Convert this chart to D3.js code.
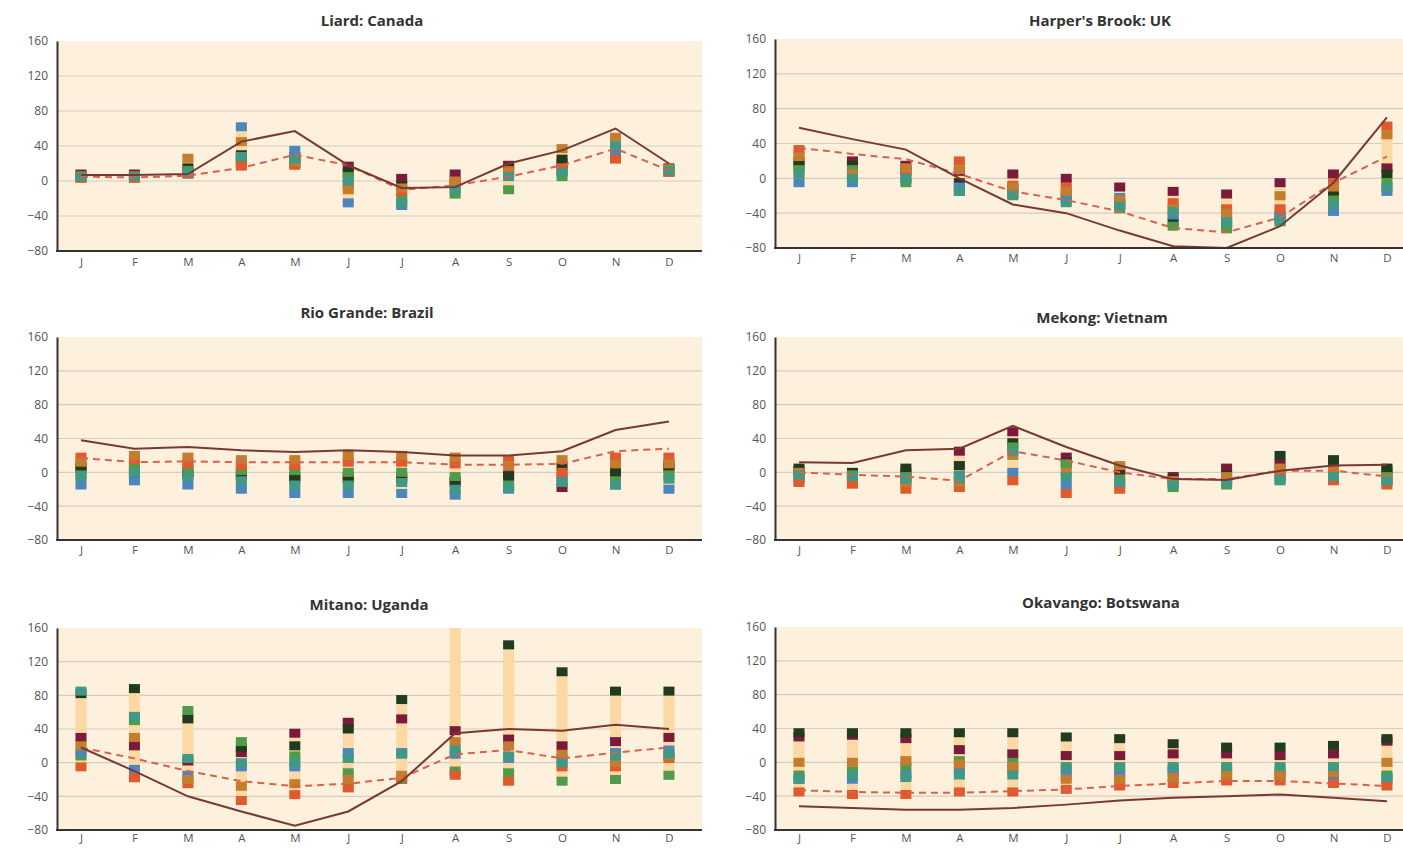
<!DOCTYPE html>
<html><head><meta charset="utf-8">
<script src="https://cdn.jsdelivr.net/npm/d3@7"></script>
<style>
body{margin:0;background:#fff}
svg{display:block}
text{font-family:"Open Sans","Noto Sans",sans-serif}
</style>
</head><body>
<svg id="chart" width="1403" height="848"></svg>
<script>
// ---------- DATA ----------
const months = ["J","F","M","A","M","J","J","A","S","O","N","D"];
const yTicks = [-80,-40,0,40,80,120,160];
const modelNames = ["Model 1","Model 2","Model 3","Model 4","Model 5","Model 6","Model 7"];
const modelColors = ["#7a1b3b","#213b1f","#4f9b49","#4d86ba","#df5a2c","#c47c2e","#3f9985"];

// Liard: Canada
const liardObs  = [7,7,8,45,57,18,-8,-7,20,35,60,20];
const liardMean = [5,4,6,15,30,18,-10,-5,5,18,37,12];
const liardModels = [
  [8,8,10,25,28,17,3,8,18,20,35,15],
  [6,6,15,30,22,10,-5,-2,15,25,40,12],
  [5,5,12,20,20,5,-20,-15,-10,5,30,10],
  [4,4,8,62,35,-25,-28,-5,8,12,30,12],
  [3,3,8,17,18,-5,-12,-3,12,15,25,10],
  [6,6,26,45,22,-10,-8,0,10,37,50,14],
  [5,5,10,28,25,0,-25,-10,5,10,40,12]
];

// Harper's Brook: UK
const harperObs  = [58,45,33,0,-30,-40,-60,-78,-80,-55,-5,70];
const harperMean = [35,28,22,5,-15,-25,-38,-57,-62,-45,-5,25];
const harperModels = [
  [20,20,15,8,5,0,-10,-15,-18,-5,5,12],
  [15,15,8,-5,-12,-20,-30,-50,-52,-45,-15,5],
  [10,10,-5,-15,-20,-25,-35,-55,-58,-50,-25,-5],
  [-5,-5,0,-10,-18,-22,-22,-42,-48,-42,-38,-15],
  [33,5,10,20,-8,-10,-28,-28,-35,-35,-5,60],
  [25,5,12,10,-10,-15,-25,-35,-40,-20,-10,50],
  [5,0,0,-15,-18,-28,-32,-38,-50,-48,-30,-10]
];

// Rio Grande: Brazil
const rioObs  = [38,28,30,26,24,26,24,20,20,25,50,60];
const rioMean = [17,12,13,12,12,12,12,9,9,10,25,28];
const rioModels = [
  [5,-3,-3,-5,-8,-8,-8,-12,-3,-18,0,5],
  [7,3,0,-2,-5,-5,-5,-10,-5,7,0,8],
  [-3,5,5,2,2,0,0,-5,-15,-5,-10,-3],
  [-15,-10,-15,-20,-25,-25,-25,-27,-20,-10,-15,-20],
  [18,15,10,8,8,12,12,10,15,0,18,18],
  [12,20,18,15,15,20,20,18,8,15,10,10],
  [-5,0,-5,-10,-15,-15,-12,-20,-18,-12,-15,-8]
];

// Mekong: Vietnam
const mekongObs  = [12,11,26,28,55,30,8,-8,-9,2,8,9];
const mekongMean = [0,-3,-5,-10,25,14,0,-8,-8,2,2,-5];
const mekongModels = [
  [2,-2,0,25,48,18,2,-5,5,10,5,2],
  [5,0,5,8,35,12,5,-8,-3,20,15,5],
  [-5,-3,-5,-3,30,10,-8,-18,-15,-10,-3,-5],
  [-8,-8,-10,-5,0,-15,-12,-12,-8,-5,-5,-10],
  [-12,-14,-20,-18,-10,-25,-20,-10,-10,0,-10,-15],
  [0,-5,-12,-12,20,0,8,-10,-5,5,2,-8],
  [-3,-5,-8,-8,25,-5,-12,-15,-12,-8,-5,-10]
];

// Mitano: Uganda
const mitanoObs  = [18,-10,-40,-58,-75,-58,-22,35,40,38,45,40];
const mitanoMean = [18,5,-10,-22,-28,-25,-18,10,15,5,12,18];
const mitanoModels = [
  [30,20,2,12,35,48,52,38,28,20,25,30],
  [82,88,52,18,20,40,75,175,140,108,85,85],
  [8,50,62,25,8,-12,-20,-10,-12,-22,-20,-15],
  [12,-8,-15,-5,-5,12,12,10,5,5,12,15],
  [-5,-18,-25,-45,-38,-30,-18,-15,-22,-5,-5,5],
  [20,30,-20,-28,-25,-20,-15,25,20,10,0,8],
  [85,55,5,0,0,5,10,15,8,0,8,10]
];

// Okavango: Botswana
const okavangoObs  = [-52,-54,-56,-56,-54,-50,-45,-42,-40,-38,-42,-46];
const okavangoMean = [-33,-35,-36,-36,-34,-32,-28,-25,-22,-22,-25,-28];
const okavangoModels = [
  [30,32,28,15,10,8,8,10,10,8,10,25],
  [35,35,35,35,35,30,28,22,18,18,20,28],
  [-15,-10,-5,2,0,-8,-8,-8,-8,-10,-10,-15],
  [-20,-20,-15,-10,-8,-15,-15,-12,-12,-15,-15,-20],
  [-35,-38,-38,-35,-35,-32,-28,-25,-22,-22,-25,-28],
  [0,0,2,-2,-5,-20,-20,-18,-15,-15,-12,0],
  [-20,-15,-18,-15,-15,-5,-5,-5,-5,-5,-5,-18]
];

// ---------- LAYOUT ----------
const panels = [
  {title:"Liard: Canada",      obs:liardObs,    mean:liardMean,    models:liardModels,    x0:57,  top:41,  bottom:251, tx:372,  ty:26,  mp:7},
  {title:"Harper's Brook: UK", obs:harperObs,   mean:harperMean,   models:harperModels,   x0:775, top:39,  bottom:248, tx:1100, ty:26,  mp:6},
  {title:"Rio Grande: Brazil", obs:rioObs,      mean:rioMean,      models:rioModels,      x0:57,  top:337, bottom:540, tx:367,  ty:318, mp:6},
  {title:"Mekong: Vietnam",    obs:mekongObs,   mean:mekongMean,   models:mekongModels,   x0:775, top:337, bottom:540, tx:1102, ty:323, mp:6},
  {title:"Mitano: Uganda",     obs:mitanoObs,   mean:mitanoMean,   models:mitanoModels,   x0:57,  top:628, bottom:830, tx:369,  ty:610, mp:4},
  {title:"Okavango: Botswana", obs:okavangoObs, mean:okavangoMean, models:okavangoModels, x0:775, top:627, bottom:830, tx:1101, ty:608, mp:4}
];
const plotW = 645, step = 53.45, firstOff = 24;

const svg = d3.select("#chart");
const defs = svg.append("defs");

panels.forEach((p, pi) => {
  const x = d3.scalePoint().domain(d3.range(12)).range([p.x0 + firstOff, p.x0 + firstOff + 11*step]);
  const y = d3.scaleLinear().domain([-80,160]).range([p.bottom, p.top]);
  const g = svg.append("g");

  // background
  g.append("rect").attr("x", p.x0).attr("y", p.top).attr("width", plotW).attr("height", p.bottom - p.top)
    .attr("fill", "#fdf0dd");

  // gridlines
  g.selectAll("line.grid").data(yTicks.filter(t => t > -80 && t < 160)).join("line")
    .attr("x1", p.x0).attr("x2", p.x0 + plotW)
    .attr("y1", d => y(d)).attr("y2", d => y(d))
    .attr("stroke", "#d6cdbf").attr("stroke-width", 1.2);

  // clip
  const cid = "clip" + pi;
  defs.append("clipPath").attr("id", cid).append("rect")
    .attr("x", p.x0).attr("y", p.top).attr("width", plotW).attr("height", p.bottom - p.top);
  const inner = g.append("g").attr("clip-path", `url(#${cid})`);

  // range bars
  const ranges = d3.range(12).map(i => {
    const vals = p.models.map(m => m[i]);
    return {i, min: d3.min(vals), max: d3.max(vals)};
  });
  inner.selectAll("rect.range").data(ranges).join("rect")
    .attr("x", d => x(d.i) - 5.5).attr("width", 11)
    .attr("y", d => y(d.max)).attr("height", d => y(d.min) - y(d.max))
    .attr("fill", "#fbd8a4");

  // model squares
  p.models.forEach((m, mi) => {
    inner.selectAll(null).data(m.map((v, i) => ({v, i}))).join("rect")
      .attr("x", d => x(d.i) - 5.5).attr("width", 11)
      .attr("y", d => y(d.v) - 4.5).attr("height", 9)
      .attr("fill", modelColors[mi]);
  });

  // lines
  const line = d3.line().x((d, i) => x(i)).y(d => y(d));
  inner.append("path").datum(p.mean).attr("d", line)
    .attr("fill", "none").attr("stroke", "#d8624c").attr("stroke-width", 2)
    .attr("stroke-dasharray", "7,5");
  inner.append("path").datum(p.obs).attr("d", line)
    .attr("fill", "none").attr("stroke", "#7a3833").attr("stroke-width", 2);

  // y axis
  const ya = g.append("g").attr("transform", `translate(${p.x0},0)`)
    .call(d3.axisLeft(y).tickValues(yTicks).tickSize(0).tickPadding(9)
      .tickFormat(d => d < 0 ? "\u2212" + Math.abs(d) : d));
  ya.select(".domain").attr("stroke", "#333").attr("stroke-width", 2);
  ya.selectAll("text").attr("fill", "#555").attr("font-size", 12);

  // x axis
  const xa = g.append("g").attr("transform", `translate(0,${p.bottom})`)
    .call(d3.axisBottom(x).tickSize(0).tickPadding(p.mp).tickFormat(i => months[i]));
  xa.select(".domain").remove();
  xa.selectAll("text").attr("fill", "#555").attr("font-size", 11.5);
  g.append("line").attr("x1", p.x0 - 1).attr("x2", p.x0 + plotW)
    .attr("y1", p.bottom).attr("y2", p.bottom).attr("stroke", "#333").attr("stroke-width", 2);

  // title
  g.append("text").attr("x", p.tx).attr("y", p.ty).attr("text-anchor", "middle")
    .attr("font-size", 15).attr("font-weight", "bold").attr("fill", "#333").text(p.title);
});
</script>
</body></html>
